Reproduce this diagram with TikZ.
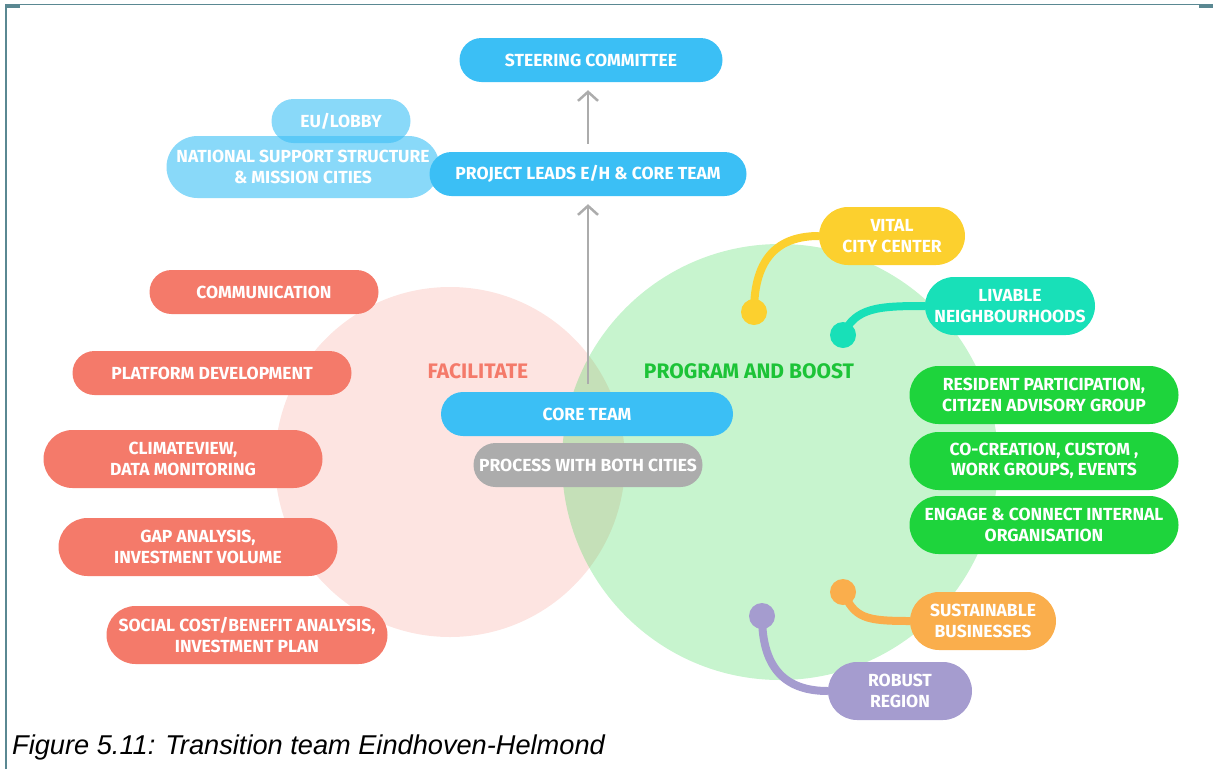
\documentclass[tikz,border=0pt]{standalone}
\usepackage{fontspec}
\setmainfont{Liberation Sans}
\newfontfamily\pillfont{Fira Sans}
\usetikzlibrary{shapes.misc,arrows.meta}
\definecolor{skyblue}{RGB}{59,191,245}
\definecolor{salmon}{RGB}{244,122,106}
\definecolor{leaf}{RGB}{30,212,60}
\definecolor{sun}{RGB}{252,208,46}
\definecolor{aqua}{RGB}{24,224,184}
\definecolor{peach}{RGB}{250,174,76}
\definecolor{lilac}{RGB}{165,156,207}
\definecolor{stone}{RGB}{172,172,172}
\definecolor{framec}{RGB}{90,136,146}
\begin{document}
\begin{tikzpicture}[x=1pt, y=-1pt,
    pill/.style={rounded rectangle, minimum height=44pt, inner sep=0pt, text=white, align=center,
      font=\pillfont\bfseries\fontsize{17.5}{20.5}\selectfont},
    twoline/.style={pill, minimum height=58pt},
    arr/.style={-{Straight Barb[length=9pt,width=20pt]}, line width=2.5pt, stone, shorten <=8pt, shorten >=8pt},
    link/.style={line width=8pt},
    dot/.style={circle, inner sep=0pt, minimum size=26pt},
    label/.style={font=\pillfont\bfseries\fontsize{21}{24}\selectfont}
  ]
  \useasboundingbox (0,0) rectangle (1213,769);
  % frame
  \draw[framec, line width=1.5pt] (6,769) -- (6,4.5) -- (1213,4.5);
  \fill[framec] (5,3.5) rectangle (20,7.5);
  \fill[framec] (1199,3.5) rectangle (1213,7.5);

  % the two fields
  \fill[salmon, fill opacity=.2] (450,462) circle[radius=175];
  \fill[leaf, fill opacity=.25] (780,462) circle[radius=218];
  \node[label, text=salmon] (facil) at (478,371) {FACILITATE};
  \node[label, text=leaf!92!black] (boost) at (749,371) {PROGRAM AND BOOST};

  % top of the organisation
  \node[pill, fill=skyblue, minimum width=263pt] (steer) at (591,60) {STEERING COMMITTEE};
  \node[pill, fill=skyblue, fill opacity=.6, text opacity=1, minimum width=139pt] (eu) at (341,121) {EU/LOBBY};
  \node[twoline, fill=skyblue, fill opacity=.6, text opacity=1, minimum width=273pt, minimum height=62pt] (natl) at (303,167)
    {NATIONAL SUPPORT STRUCTURE\\\& MISSION CITIES};
  \node[pill, fill=skyblue, minimum width=317pt] (leads) at (588,174) {PROJECT LEADS E/H \& CORE TEAM};
  \node[pill, fill=skyblue, minimum width=292pt] (core) at (587,414) {CORE TEAM};
  \node[pill, fill=stone, minimum width=229pt] (proc) at (588,465) {PROCESS WITH BOTH CITIES};
  \draw[arr] (core.north -| leads.south) -- (leads.south);
  \draw[arr] (leads.north) -- (leads.north |- steer.south);

  % facilitate
  \node[pill, fill=salmon, minimum width=229pt] (comm) at (264,292) {COMMUNICATION};
  \node[pill, fill=salmon, minimum width=279pt] (platf) at (212,373) {PLATFORM DEVELOPMENT};
  \node[twoline, fill=salmon, minimum width=279pt] (climv) at (183,459) {CLIMATEVIEW,\\DATA MONITORING};
  \node[twoline, fill=salmon, minimum width=279pt] (gap) at (198,547) {GAP ANALYSIS,\\INVESTMENT VOLUME};
  \node[twoline, fill=salmon, minimum width=281pt] (scba) at (247,635) {SOCIAL COST/BENEFIT ANALYSIS,\\INVESTMENT PLAN};

  % program and boost
  \node[twoline, fill=leaf, minimum width=269pt] (resid) at (1044,395) {RESIDENT PARTICIPATION,\\CITIZEN ADVISORY GROUP};
  \node[twoline, fill=leaf, minimum width=269pt] (cocre) at (1044,461) {CO-CREATION, CUSTOM ,\\WORK GROUPS, EVENTS};
  \node[twoline, fill=leaf, minimum width=269pt] (engage) at (1044,525) {ENGAGE \& CONNECT INTERNAL\\ORGANISATION};

  \node[twoline, fill=sun, minimum width=146pt] (vital) at (892,236) {VITAL\\CITY CENTER};
  \node[dot, fill=sun] (vdot) at (754,312) {};
  \draw[link, sun] (vdot.center) .. controls +(0,-55) and +(-40,0) .. (vital.west);

  \node[twoline, fill=aqua, minimum width=170pt] (livab) at (1010,306) {LIVABLE\\NEIGHBOURHOODS};
  \node[dot, fill=aqua] (ldot) at (843,335) {};
  \draw[link, aqua] (ldot.center) .. controls +(12,-28) and +(-45,0) .. (livab.west);

  \node[twoline, fill=peach, minimum width=146pt] (sust) at (983,621) {SUSTAINABLE\\BUSINESSES};
  \node[dot, fill=peach] (sdot) at (843,592) {};
  \draw[link, peach] (sdot.center) .. controls +(12,26) and +(-45,0) .. (sust.west);

  \node[twoline, fill=lilac, minimum width=144pt] (robust) at (900,691) {ROBUST\\REGION};
  \node[dot, fill=lilac] (rdot) at (762,616) {};
  \draw[link, lilac] (rdot.center) .. controls +(0,55) and +(-40,0) .. (robust.west);

  % caption
  \node[anchor=base west, inner sep=0pt, font=\itshape\fontsize{27.2}{32}\selectfont] (capt) at (12,754)
    {Figure 5.11: Transition team Eindhoven-Helmond};
\end{tikzpicture}
\end{document}
